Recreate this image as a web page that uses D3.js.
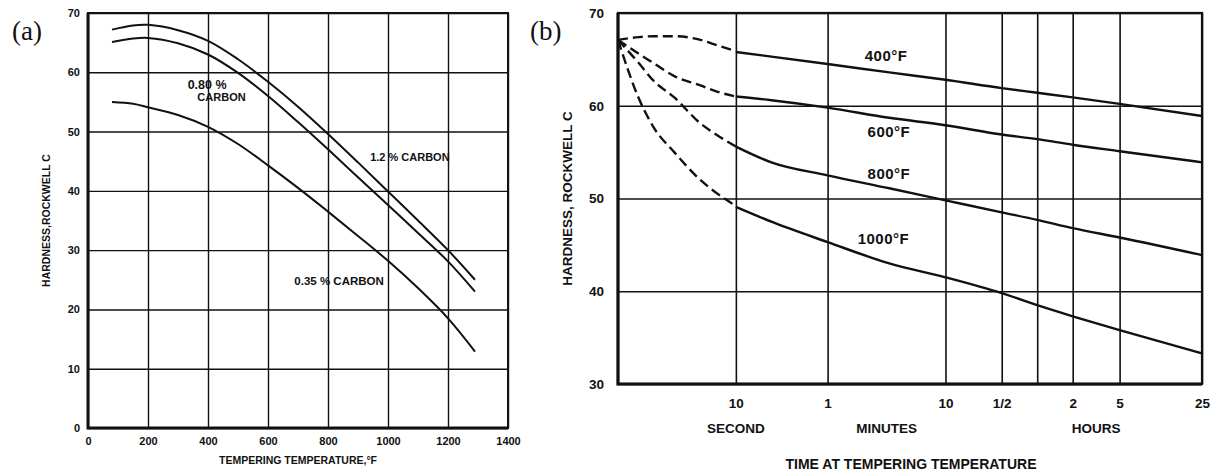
<!DOCTYPE html>
<html>
<head>
<meta charset="utf-8">
<script src="https://cdn.jsdelivr.net/npm/d3@7"></script>
<style>
  body { margin: 0; background: #fff; }
  svg { display: block; }
  .tick text { font-family: "Liberation Sans", Arial, sans-serif; font-weight: bold; fill: #111; }
  .tick line { stroke: #111; }
</style>
</head>
<body>
<svg id="chart" width="1216" height="475"></svg>
<script>
// ---- panel (a) data: hardness vs tempering temperature
var tempF = [80, 150, 200, 300, 400, 500, 600, 700, 800, 900, 1000, 1100, 1200, 1290];
var carbon120 = [67.2, 67.9, 68.0, 67.1, 65.3, 62.2, 58.4, 54.2, 49.6, 44.8, 39.9, 35.0, 30.0, 25.0];
var carbon080 = [65.1, 65.7, 65.8, 64.9, 63.0, 59.9, 56.0, 51.6, 47.0, 42.3, 37.6, 32.9, 28.1, 23.0];
var carbon035 = [55.0, 54.7, 54.1, 52.8, 50.8, 47.9, 44.3, 40.5, 36.5, 32.4, 28.2, 23.6, 18.5, 12.9];
var tempTicks = [0, 200, 400, 600, 800, 1000, 1200, 1400];
var hardTicksA = [0, 10, 20, 30, 40, 50, 60, 70];

// ---- panel (b) data: hardness vs time (seconds), dashed early part + solid part
var timeEarly = [1, 1.5, 2, 3, 5, 7, 10];
var timeLate = [10, 20, 60, 200, 600, 1800, 3600, 7200, 18000, 90000];
var early400 = [67.1, 67.4, 67.5, 67.5, 67.1, 66.5, 65.9];
var early600 = [67.1, 65.6, 64.6, 63.2, 62.2, 61.5, 61.0];
var early800 = [67.1, 64.6, 62.7, 60.9, 58.1, 56.8, 55.6];
var early1000 = [67.1, 60.8, 57.7, 55.0, 52.0, 50.5, 49.2];
var late400 = [65.8, 65.3, 64.5, 63.6, 62.8, 61.9, 61.4, 60.9, 60.2, 58.9];
var late600 = [61.0, 60.6, 59.8, 58.7, 57.9, 56.9, 56.4, 55.8, 55.1, 53.9];
var late800 = [55.6, 53.9, 52.5, 51.1, 49.8, 48.5, 47.7, 46.8, 45.8, 43.9];
var late1000 = [49.1, 47.5, 45.3, 43.0, 41.5, 39.8, 38.5, 37.3, 35.8, 33.3];
var timeTicks = [10, 60, 600, 1800, 3600, 7200, 18000, 90000];
var timeTickLabels = ["10", "1", "10", "1/2", "", "2", "5", "25"];
var unitLabels = ["SECOND", "MINUTES", "HOURS"];
var unitAt = [10, 190, 11400];
var hardTicksB = [30, 40, 50, 60, 70];
var tempLabels = ["400°F", "600°F", "800°F", "1000°F"];
var tempLabelAt = [[124, 65.3], [131, 57.1], [131, 52.5], [108, 45.5]];

var FONT = '"Liberation Sans", Arial, sans-serif';
var svg = d3.select('#chart');

// ================= panel (a)
var xa = d3.scaleLinear().domain([0, 1400]).range([88, 508]);
var ya = d3.scaleLinear().domain([0, 70]).range([428, 13]);
var ga = svg.append('g');

ga.append('g')
    .attr('transform', 'translate(0,' + ya(0) + ')')
    .call(d3.axisBottom(xa).tickValues(tempTicks).tickSize(-(ya(0) - ya(70))).tickPadding(9).tickFormat(d3.format('d')))
    .call(g => g.select('.domain').remove())
    .call(g => g.selectAll('.tick line').attr('stroke-width', 1.4))
    .call(g => g.selectAll('.tick text').style('font-size', '11px'));

ga.append('g')
    .attr('transform', 'translate(' + xa(0) + ',0)')
    .call(d3.axisLeft(ya).tickValues(hardTicksA).tickSize(-(xa(1400) - xa(0))).tickPadding(8))
    .call(g => g.select('.domain').remove())
    .call(g => g.selectAll('.tick line').attr('stroke-width', 1.4))
    .call(g => g.selectAll('.tick text').style('font-size', '11px'));

// frame
ga.append('rect')
    .attr('x', xa(0)).attr('y', ya(70))
    .attr('width', xa(1400) - xa(0)).attr('height', ya(0) - ya(70))
    .attr('fill', 'none').attr('stroke', '#111').attr('stroke-width', 2);
ga.append('path')
    .attr('d', 'M' + xa(0) + ',' + ya(70) + 'V' + ya(0) + 'H' + xa(1400))
    .attr('fill', 'none').attr('stroke', '#111').attr('stroke-width', 3);

var lineA = d3.line()
    .x((d, i) => xa(tempF[i]))
    .y(d => ya(d))
    .curve(d3.curveCatmullRom.alpha(0.5));

[carbon120, carbon080, carbon035].forEach(function(s) {
    ga.append('path')
        .attr('d', lineA(s))
        .attr('fill', 'none').attr('stroke', '#111').attr('stroke-width', 2);
});

function label(g, txt, x, y, size, anchor) {
    return g.append('text')
        .attr('x', x).attr('y', y)
        .attr('text-anchor', anchor || 'middle')
        .attr('dominant-baseline', 'middle')
        .style('font-family', FONT).style('font-weight', 'bold')
        .style('font-size', size + 'px').attr('fill', '#111')
        .text(txt);
}

label(ga, '0.80 %', xa(397), ya(57.8), 12.5);
label(ga, 'CARBON', xa(445), ya(55.6), 11);
label(ga, '1.2 % CARBON', xa(1073), ya(45.5), 11);
label(ga, '0.35 % CARBON', xa(837), ya(24.6), 11.5);

label(ga, 'TEMPERING TEMPERATURE,°F', (xa(0) + xa(1400)) / 2 + 0, 461, 10.5);
label(ga, 'HARDNESS,ROCKWELL C', 0, 0, 10.5)
    .attr('transform', 'translate(47,' + (ya(0) + ya(70)) / 2 + ') rotate(-90)');

ga.append('text')
    .attr('x', 12).attr('y', 40)
    .style('font-family', '"Liberation Serif", "Times New Roman", serif')
    .style('font-size', '27px').attr('fill', '#111')
    .text('(a)');

// ================= panel (b)
var xb = d3.scaleLog().domain([1, 90000]).range([618, 1202]);
var yb = d3.scaleLinear().domain([30, 70]).range([384, 13]);
var gb = svg.append('g');

gb.append('g')
    .attr('transform', 'translate(0,' + yb(30) + ')')
    .call(d3.axisBottom(xb).tickValues(timeTicks).tickSize(-(yb(30) - yb(70))).tickPadding(14)
        .tickFormat((d, i) => timeTickLabels[i]))
    .call(g => g.select('.domain').remove())
    .call(g => g.selectAll('.tick line').attr('stroke-width', 1.6))
    .call(g => g.selectAll('.tick text').style('font-size', '13.5px'));

gb.append('g')
    .attr('transform', 'translate(' + xb(1) + ',0)')
    .call(d3.axisLeft(yb).tickValues(hardTicksB).tickSize(-(xb(90000) - xb(1))).tickPadding(14))
    .call(g => g.select('.domain').remove())
    .call(g => g.selectAll('.tick line').attr('stroke-width', 1.6))
    .call(g => g.selectAll('.tick text').style('font-size', '13.5px'));

gb.append('rect')
    .attr('x', xb(1)).attr('y', yb(70))
    .attr('width', xb(90000) - xb(1)).attr('height', yb(30) - yb(70))
    .attr('fill', 'none').attr('stroke', '#111').attr('stroke-width', 2.2);
gb.append('path')
    .attr('d', 'M' + xb(1) + ',' + yb(70) + 'V' + yb(30) + 'H' + xb(90000))
    .attr('fill', 'none').attr('stroke', '#111').attr('stroke-width', 3.2);

var lineEarly = d3.line()
    .x((d, i) => xb(timeEarly[i]))
    .y(d => yb(d))
    .curve(d3.curveMonotoneX);
var lineLate = d3.line()
    .x((d, i) => xb(timeLate[i]))
    .y(d => yb(d))
    .curve(d3.curveMonotoneX);

[early400, early600, early800, early1000].forEach(function(s) {
    gb.append('path')
        .attr('d', lineEarly(s))
        .attr('fill', 'none').attr('stroke', '#111').attr('stroke-width', 2.4)
        .attr('stroke-dasharray', '10,5');
});
[late400, late600, late800, late1000].forEach(function(s) {
    gb.append('path')
        .attr('d', lineLate(s))
        .attr('fill', 'none').attr('stroke', '#111').attr('stroke-width', 2.4);
});

tempLabels.forEach(function(t, i) {
    label(gb, t, xb(tempLabelAt[i][0]), yb(tempLabelAt[i][1]), 15, 'start')
        .style('letter-spacing', '0.5px');
});

unitLabels.forEach(function(u, i) {
    label(gb, u, xb(unitAt[i]), 429, 13.5);
});
label(gb, 'TIME AT TEMPERING TEMPERATURE', (xb(1) + xb(90000)) / 2 + 1, 465, 14);
label(gb, 'HARDNESS, ROCKWELL C', 0, 0, 13.5)
    .attr('transform', 'translate(568,' + (yb(30) + yb(70)) / 2 + ') rotate(-90)');

gb.append('text')
    .attr('x', 530).attr('y', 40)
    .style('font-family', '"Liberation Serif", "Times New Roman", serif')
    .style('font-size', '27px').attr('fill', '#111')
    .text('(b)');
</script>
</body>
</html>
